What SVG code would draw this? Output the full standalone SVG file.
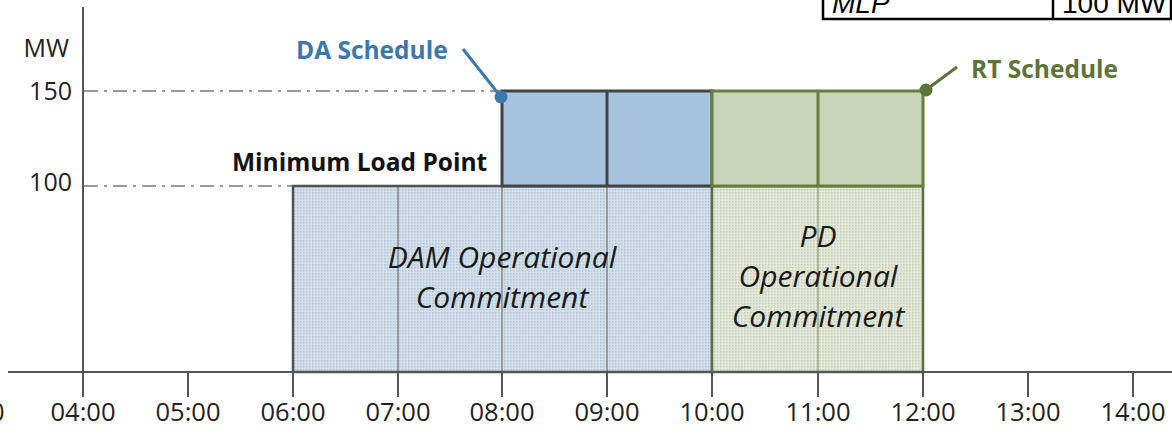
<svg xmlns="http://www.w3.org/2000/svg" width="1172" height="443" viewBox="0 0 1172 443">
  <defs>
    <pattern id="dotsBlue" width="3" height="3" patternUnits="userSpaceOnUse">
      <rect width="3" height="3" fill="#d3dfeb"/>
      <rect width="1.5" height="1.5" fill="#b3c5d8"/>
    </pattern>
    <pattern id="dotsGreen" width="3" height="3" patternUnits="userSpaceOnUse">
      <rect width="3" height="3" fill="#e3e8d8"/>
      <rect width="1.5" height="1.5" fill="#c6cfb5"/>
    </pattern>
  </defs>
  <style>
    .axis { stroke: #555; stroke-width: 2; fill: none; }
    .guide { stroke: #7a7a7a; stroke-width: 1.6; stroke-dasharray: 14 6 3 6; fill: none; }
    .tick { font-family: "Open Sans", "DejaVu Sans", sans-serif; font-size: 25.5px; fill: #222; text-anchor: middle; }
    .ylab { font-family: "Open Sans", "DejaVu Sans", sans-serif; font-size: 25px; fill: #222; text-anchor: end; }
    .bold { font-family: "Open Sans", "DejaVu Sans", sans-serif; font-size: 24.5px; font-weight: bold; }
    .ital { font-family: "Open Sans", "DejaVu Sans", sans-serif; font-size: 30px; font-style: italic; fill: #1a1a1a; text-anchor: middle; }
    .tbl { font-family: "Liberation Sans", Arial, sans-serif; font-size: 28px; fill: #000; }
  </style>

  <!-- parameter table (top right) -->
  <g id="mlp-table">
    <rect x="823" y="-12" width="348" height="31" fill="#fff" stroke="#000" stroke-width="2.5"/>
    <line x1="1053" y1="-12" x2="1053" y2="19" stroke="#000" stroke-width="2.5"/>
    <text class="tbl" x="832" y="13" font-style="italic">MLP</text>
    <text class="tbl" x="1062" y="13">100 MW</text>
  </g>

  <!-- guide lines at 150 and 100 MW -->
  <g id="guides">
    <line class="guide" x1="84" y1="91" x2="501" y2="91"/>
    <line class="guide" x1="84" y1="186" x2="293" y2="186"/>
  </g>

  <!-- DAM operational commitment block -->
  <g id="dam-commitment">
    <rect x="293" y="186" width="419" height="186" fill="url(#dotsBlue)"/>
    <g stroke="#8c8c8c" stroke-width="1.6">
      <line x1="398" y1="186" x2="398" y2="372"/>
      <line x1="502" y1="186" x2="502" y2="372"/>
      <line x1="607" y1="186" x2="607" y2="372"/>
    </g>
    <rect x="293" y="186" width="419" height="186" fill="none" stroke="#505050" stroke-width="2.5"/>
    <text class="ital" x="502" y="268">DAM Operational</text>
    <text class="ital" x="502" y="308">Commitment</text>
  </g>

  <!-- PD operational commitment block -->
  <g id="pd-commitment">
    <rect x="712" y="186" width="211" height="186" fill="url(#dotsGreen)"/>
    <line x1="818" y1="186" x2="818" y2="372" stroke="#a2ae88" stroke-width="1.6"/>
    <rect x="712" y="186" width="211" height="186" fill="none" stroke="#5e6e3e" stroke-width="2.5"/>
    <text class="ital" x="818" y="247">PD</text>
    <text class="ital" x="818" y="287">Operational</text>
    <text class="ital" x="818" y="327">Commitment</text>
  </g>

  <!-- DA schedule (above the minimum load point) -->
  <g id="da-schedule">
    <rect x="502" y="91" width="210" height="95" fill="#a7c3de" stroke="#444" stroke-width="3"/>
    <line x1="607" y1="91" x2="607" y2="186" stroke="#444" stroke-width="3"/>
  </g>

  <!-- RT schedule (above the minimum load point) -->
  <g id="rt-schedule">
    <rect x="712" y="91" width="211" height="95" fill="#c9d5b9" stroke="#677c3d" stroke-width="3"/>
    <line x1="818" y1="91" x2="818" y2="186" stroke="#677c3d" stroke-width="3"/>
  </g>

  <!-- axes -->
  <g id="axes">
    <line class="axis" x1="83" y1="7" x2="83" y2="397"/>
    <line class="axis" x1="8" y1="372" x2="1172" y2="372"/>
    <g class="axis">
      <line x1="188" y1="372" x2="188" y2="397"/>
      <line x1="293" y1="372" x2="293" y2="397"/>
      <line x1="398" y1="372" x2="398" y2="397"/>
      <line x1="502" y1="372" x2="502" y2="397"/>
      <line x1="607" y1="372" x2="607" y2="397"/>
      <line x1="712" y1="372" x2="712" y2="397"/>
      <line x1="818" y1="372" x2="818" y2="397"/>
      <line x1="923" y1="372" x2="923" y2="397"/>
      <line x1="1028" y1="372" x2="1028" y2="397"/>
      <line x1="1133" y1="372" x2="1133" y2="397"/>
    </g>
    <text class="ylab" x="69" y="57">MW</text>
    <text class="ylab" x="72" y="100">150</text>
    <text class="ylab" x="72" y="191">100</text>
    <text class="tick" x="-28" y="421">03:00</text>
    <text class="tick" x="83" y="421">04:00</text>
    <text class="tick" x="188" y="421">05:00</text>
    <text class="tick" x="293" y="421">06:00</text>
    <text class="tick" x="398" y="421">07:00</text>
    <text class="tick" x="502" y="421">08:00</text>
    <text class="tick" x="607" y="421">09:00</text>
    <text class="tick" x="712" y="421">10:00</text>
    <text class="tick" x="818" y="421">11:00</text>
    <text class="tick" x="923" y="421">12:00</text>
    <text class="tick" x="1028" y="421">13:00</text>
    <text class="tick" x="1133" y="421">14:00</text>
  </g>

  <!-- callouts -->
  <g id="connectors">
    <line x1="463" y1="49" x2="501" y2="97" stroke="#3d78ad" stroke-width="3"/>
    <circle cx="501" cy="97" r="6.5" fill="#3d78ad"/>
    <line x1="926" y1="90" x2="957" y2="67" stroke="#5e7436" stroke-width="3"/>
    <circle cx="926" cy="90" r="6.5" fill="#5e7436"/>
  </g>

  <g id="labels">
    <text class="bold" x="296" y="59" fill="#3d78ad">DA Schedule</text>
    <text class="bold" x="971" y="78" fill="#5e7436">RT Schedule</text>
    <text class="bold" x="232" y="171" fill="#111">Minimum Load Point</text>
  </g>
</svg>
